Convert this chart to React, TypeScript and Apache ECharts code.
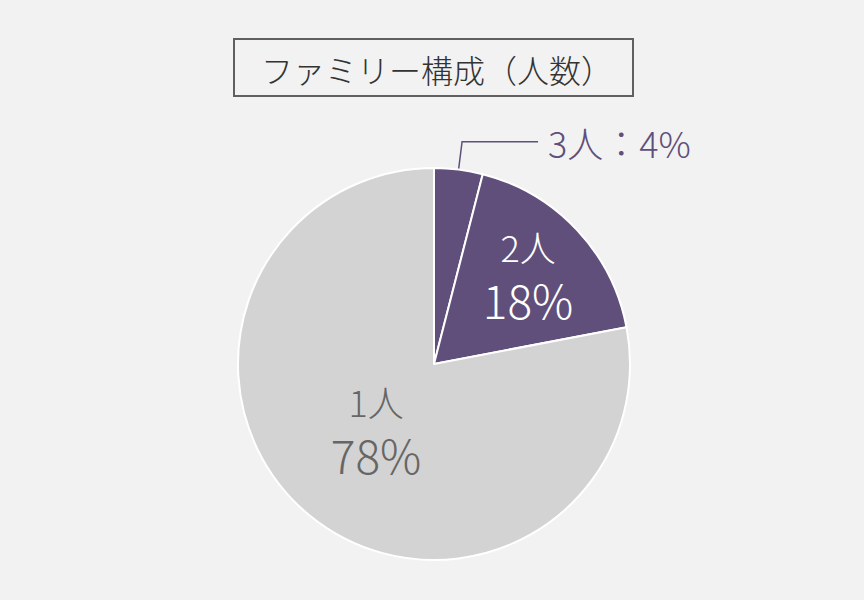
import React, { useEffect, useRef } from 'react';
import * as echarts from 'echarts';

const titleText = 'ファミリー構成（人数）';
const categories = ['3人', '2人', '1人'];
const values = [4, 18, 78];
const sliceColors = ['#5f4f7a', '#5f4f7a', '#d3d3d3'];

const FONT = '"Noto Sans CJK JP", "Noto Sans", sans-serif';
const PURPLE = '#5f4f7a';

export default function App() {
  const ref = useRef<HTMLDivElement>(null);

  useEffect(() => {
    if (!ref.current) return;
    const chart = echarts.init(ref.current, null, { renderer: 'svg' });

    const data = categories.map((name, i) => {
      const inside = i > 0;
      const c = i === 1 ? '#ffffff' : '#666666';
      return {
        name,
        value: values[i],
        itemStyle: { color: sliceColors[i] },
        label: inside
          ? {
              position: 'inside',
              formatter: '{n|{b}}\n{p|{c}%}',
              rich: {
                n: { fontSize: 36, lineHeight: 50, color: c, fontFamily: FONT, fontWeight: 300 },
                p: { fontSize: 46, lineHeight: 56, color: c, fontFamily: FONT, fontWeight: 300 },
              },
            }
          : {
              position: 'outside',
              formatter: '{b}：{c}%',
              fontSize: 36,
              fontWeight: 300,
              color: PURPLE,
              fontFamily: FONT,
              distanceToLabelLine: 10,
            },
        labelLine: inside
          ? { show: false }
          : { show: true, length: 28, length2: 76, lineStyle: { color: PURPLE, width: 1.5 } },
      };
    });

    chart.setOption({
      animation: false,
      backgroundColor: '#f2f2f2',
      graphic: [
        {
          type: 'rect',
          shape: { x: 234, y: 39, width: 399, height: 57 },
          style: { fill: 'transparent', stroke: '#606060', lineWidth: 2 },
        },
        {
          type: 'text',
          x: 437,
          y: 69,
          style: {
            text: titleText,
            fontSize: 32,
            fontWeight: 300,
            fontFamily: FONT,
            fill: '#333333',
            align: 'center',
            verticalAlign: 'middle',
          },
        },
      ],
      series: [
        {
          type: 'pie',
          center: [434, 364],
          radius: 196,
          startAngle: 90,
          clockwise: true,
          avoidLabelOverlap: false,
          itemStyle: { borderColor: '#ffffff', borderWidth: 2 },
          emphasis: { disabled: true },
          labelLayout: (params: any) => {
            if (params.dataIndex === 1) return { x: 528, y: 274, align: 'center', verticalAlign: 'middle' };
            if (params.dataIndex === 2) return { x: 376, y: 429, align: 'center', verticalAlign: 'middle' };
            return {};
          },
          data,
        },
      ],
    });

    return () => chart.dispose();
  }, []);

  return <div ref={ref} style={{ position: 'fixed', left: 0, top: 0, width: 864, height: 600 }} />;
}
